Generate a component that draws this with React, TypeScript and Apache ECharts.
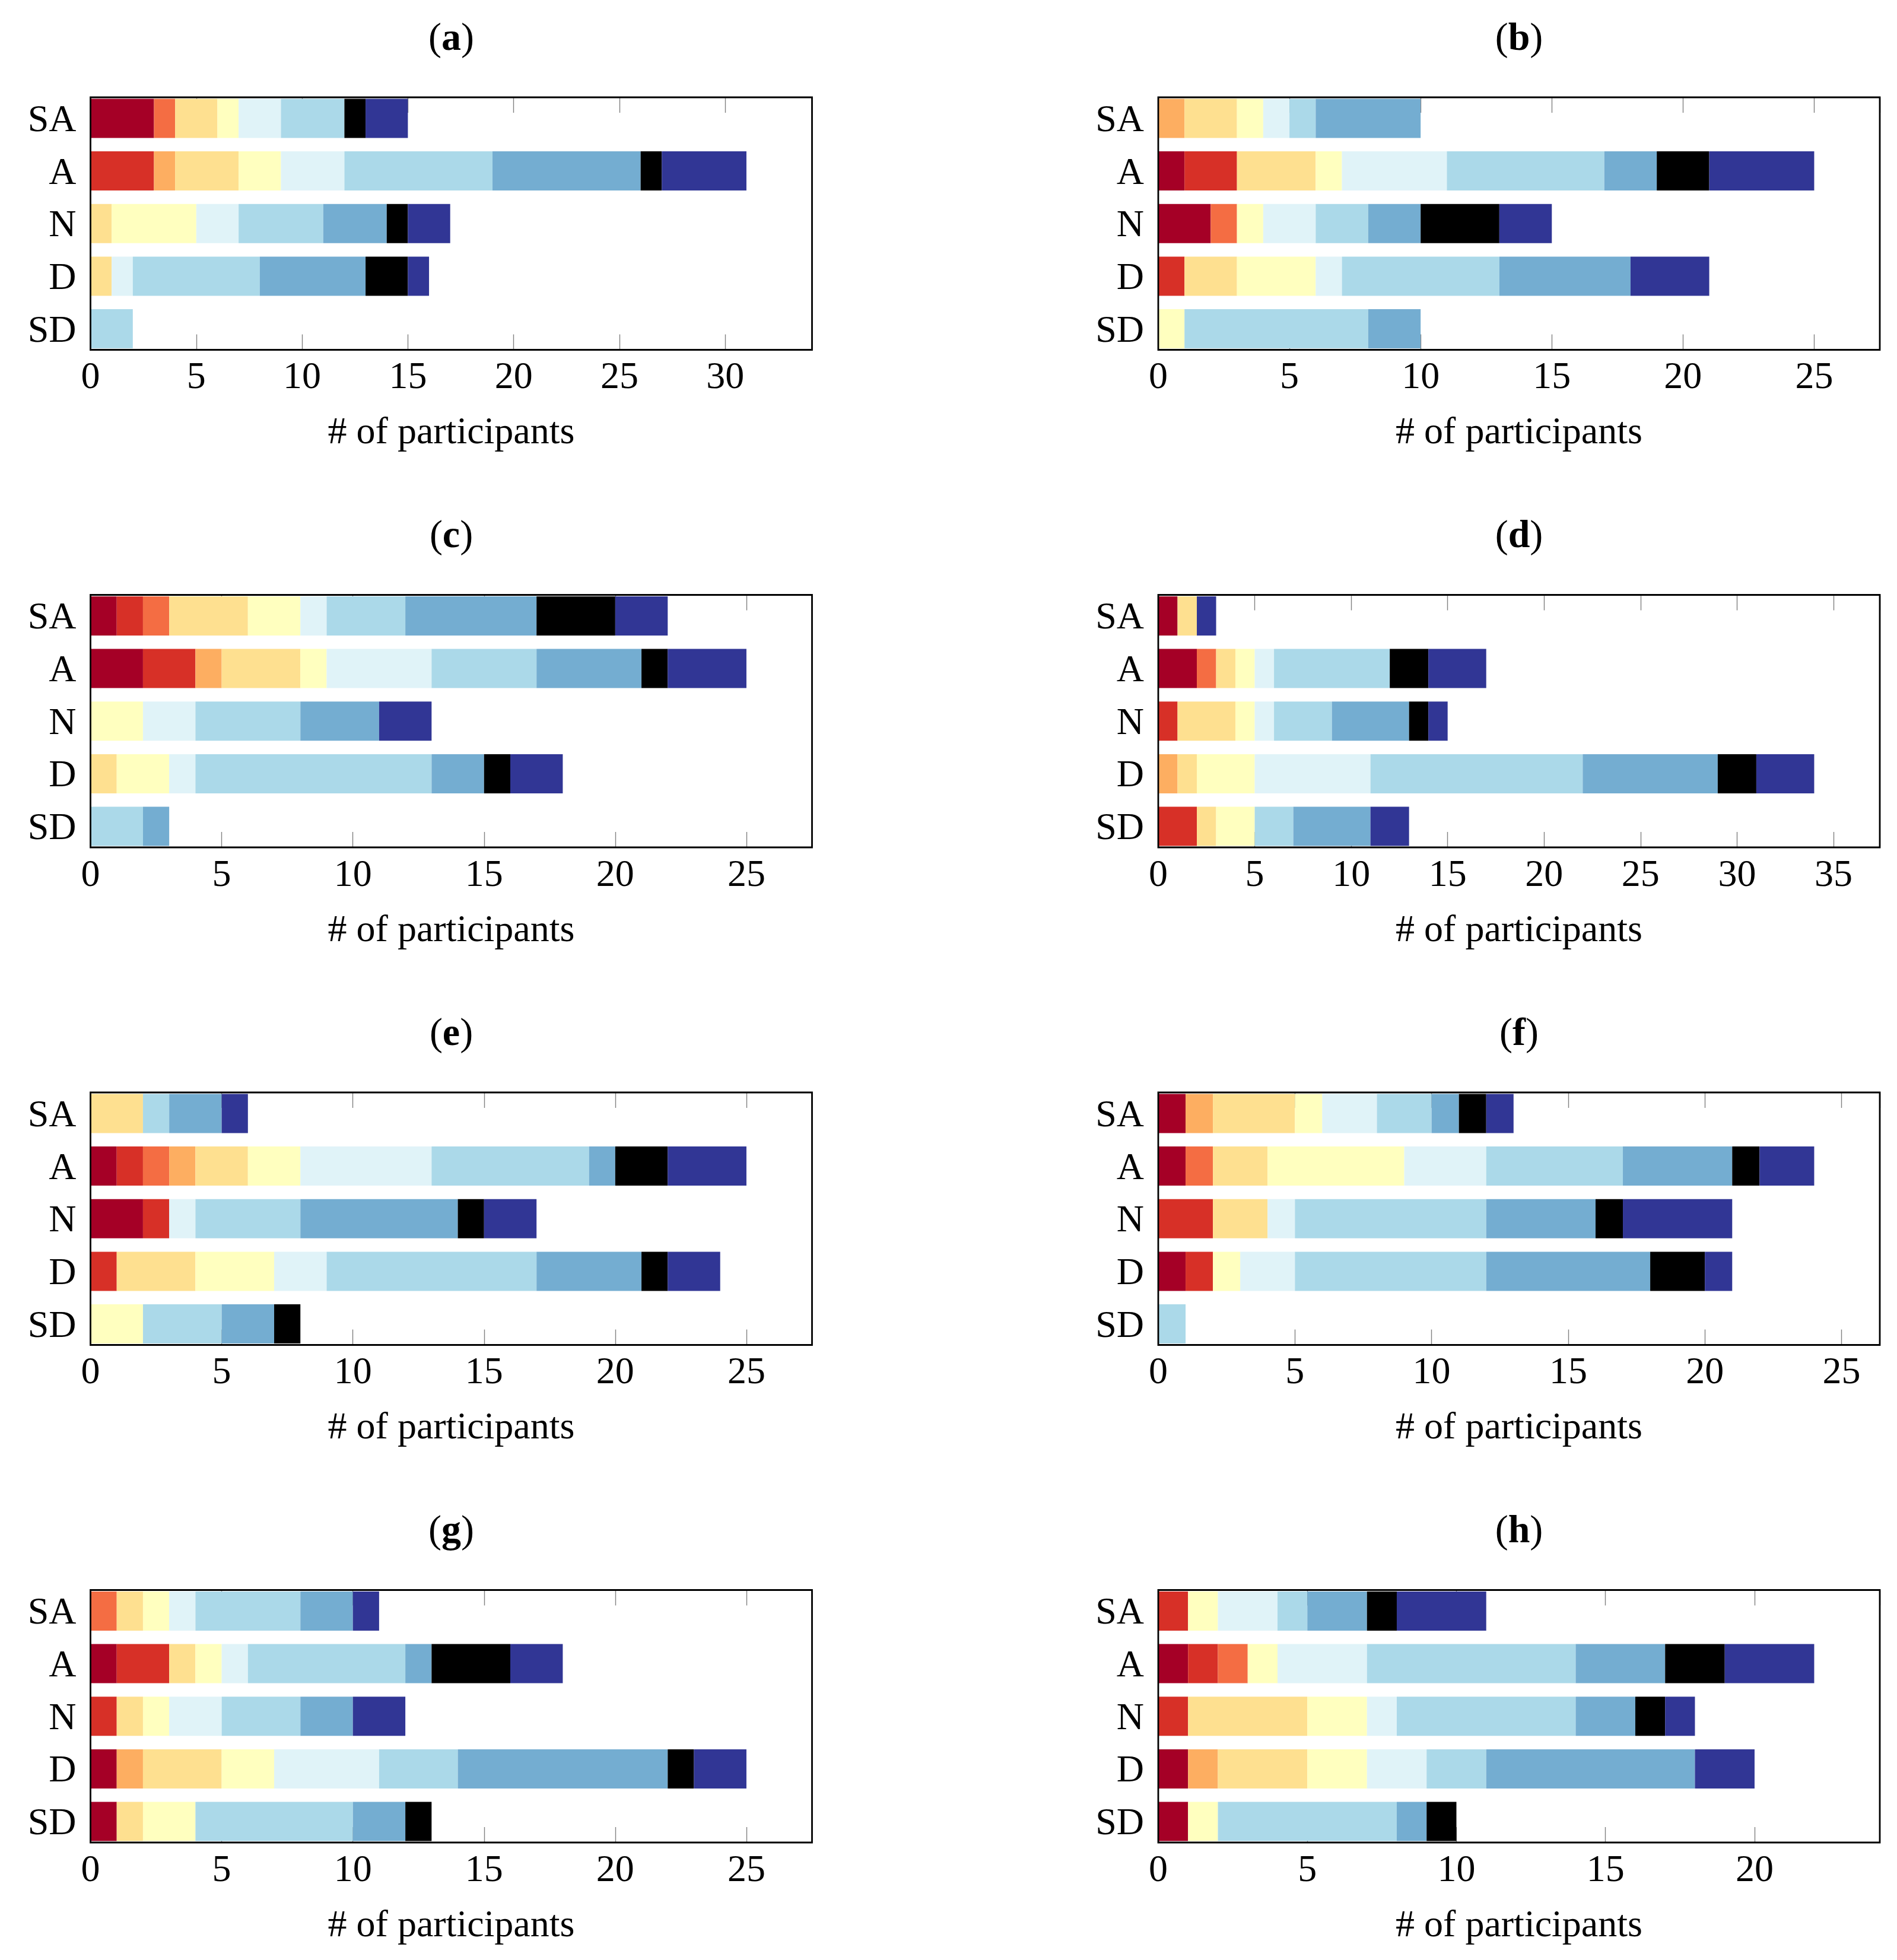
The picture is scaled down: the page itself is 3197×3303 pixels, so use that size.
import React, { useEffect, useRef } from "react";
import * as echarts from "echarts";

// ---------------- data ----------------
const categories = ["SA", "A", "N", "D", "SD"];
const panelLetters = ["a", "b", "c", "d", "e", "f", "g", "h"];
const segmentColors = [
  "#a50026", "#d73027", "#f46d43", "#fdae61", "#fee090", "#ffffbf",
  "#e0f3f8", "#abd9e9", "#74add1", "#000000", "#313695",
];

// each row: counts per colour segment, rows in order SA, A, N, D, SD
const panelA = [
  [3, 0, 1, 0, 2, 1, 2, 3, 0, 1, 2],
  [0, 3, 0, 1, 3, 2, 3, 7, 7, 1, 4],
  [0, 0, 0, 0, 1, 4, 2, 4, 3, 1, 2],
  [0, 0, 0, 0, 1, 0, 1, 6, 5, 2, 1],
  [0, 0, 0, 0, 0, 0, 0, 2, 0, 0, 0],
];
const panelB = [
  [0, 0, 0, 1, 2, 1, 1, 1, 4, 0, 0],
  [1, 2, 0, 0, 3, 1, 4, 6, 2, 2, 4],
  [2, 0, 1, 0, 0, 1, 2, 2, 2, 3, 2],
  [0, 1, 0, 0, 2, 3, 1, 6, 5, 0, 3],
  [0, 0, 0, 0, 0, 1, 0, 7, 2, 0, 0],
];
const panelC = [
  [1, 1, 1, 0, 3, 2, 1, 3, 5, 3, 2],
  [2, 2, 0, 1, 3, 1, 4, 4, 4, 1, 3],
  [0, 0, 0, 0, 0, 2, 2, 4, 3, 0, 2],
  [0, 0, 0, 0, 1, 2, 1, 9, 2, 1, 2],
  [0, 0, 0, 0, 0, 0, 0, 2, 1, 0, 0],
];
const panelD = [
  [1, 0, 0, 0, 1, 0, 0, 0, 0, 0, 1],
  [2, 0, 1, 0, 1, 1, 1, 6, 0, 2, 3],
  [0, 1, 0, 0, 3, 1, 1, 3, 4, 1, 1],
  [0, 0, 0, 1, 1, 3, 6, 11, 7, 2, 3],
  [0, 2, 0, 0, 1, 2, 0, 2, 4, 0, 2],
];
const panelE = [
  [0, 0, 0, 0, 2, 0, 0, 1, 2, 0, 1],
  [1, 1, 1, 1, 2, 2, 5, 6, 1, 2, 3],
  [2, 1, 0, 0, 0, 0, 1, 4, 6, 1, 2],
  [0, 1, 0, 0, 3, 3, 2, 8, 4, 1, 2],
  [0, 0, 0, 0, 0, 2, 0, 3, 2, 1, 0],
];
const panelF = [
  [1, 0, 0, 1, 3, 1, 2, 2, 1, 1, 1],
  [1, 0, 1, 0, 2, 5, 3, 5, 4, 1, 2],
  [0, 2, 0, 0, 2, 0, 1, 7, 4, 1, 4],
  [1, 1, 0, 0, 0, 1, 2, 7, 6, 2, 1],
  [0, 0, 0, 0, 0, 0, 0, 1, 0, 0, 0],
];
const panelG = [
  [0, 0, 1, 0, 1, 1, 1, 4, 2, 0, 1],
  [1, 2, 0, 0, 1, 1, 1, 6, 1, 3, 2],
  [0, 1, 0, 0, 1, 1, 2, 3, 2, 0, 2],
  [1, 0, 0, 1, 3, 2, 4, 3, 8, 1, 2],
  [1, 0, 0, 0, 1, 2, 0, 6, 2, 1, 0],
];
const panelH = [
  [0, 1, 0, 0, 0, 1, 2, 1, 2, 1, 3],
  [1, 1, 1, 0, 0, 1, 3, 7, 3, 2, 3],
  [0, 1, 0, 0, 4, 2, 1, 6, 2, 1, 1],
  [1, 0, 0, 1, 3, 2, 2, 2, 7, 0, 2],
  [1, 0, 0, 0, 0, 1, 0, 6, 1, 1, 0],
];
const panels = [panelA, panelB, panelC, panelD, panelE, panelF, panelG, panelH];

// tick labels for each panel's x axis
const ticksA = [0, 5, 10, 15, 20, 25, 30];
const ticksB = [0, 5, 10, 15, 20, 25];
const ticksC = [0, 5, 10, 15, 20, 25];
const ticksD = [0, 5, 10, 15, 20, 25, 30, 35];
const ticksE = [0, 5, 10, 15, 20, 25];
const ticksF = [0, 5, 10, 15, 20, 25];
const ticksG = [0, 5, 10, 15, 20, 25];
const ticksH = [0, 5, 10, 15, 20];
const panelTicks = [ticksA, ticksB, ticksC, ticksD, ticksE, ticksF, ticksG, ticksH];

const xAxisName = "# of participants";

// ---------------- layout ----------------
const PAGE_W = 3197;
const PAGE_H = 3303;
const colLeft = [152.5, 1952];
const rowTop = [164, 1002.5, 1841, 2679.5];
const plotW = 1216;
const plotH = 425.5;
const FONT = "'Liberation Serif', 'Times New Roman', serif";
const TICK = "#808080";

function buildOption() {
  const grid: any[] = [];
  const xAxis: any[] = [];
  const yAxis: any[] = [];
  const series: any[] = [];
  const graphic: any[] = [];

  panels.forEach((rows, p) => {
    const col = p % 2;
    const row = Math.floor(p / 2);
    const left = colLeft[col];
    const top = rowTop[row];
    const step = plotH / 4.8;
    const totals = rows.map((r) => r.reduce((s, v) => s + v, 0));
    const xmax = Math.max(...totals) * 1.1;
    const ticks = panelTicks[p];

    // grid A: bars (category band extended so centres match frame layout)
    grid.push({ left, top: top - 0.1 * step, width: plotW, height: step * 5 });
    // grid B: exact frame, used for x ticks/labels
    grid.push({ left, top, width: plotW, height: plotH });
    const gA = 2 * p;
    const gB = 2 * p + 1;

    xAxis.push({ gridIndex: gA, type: "value", min: 0, max: xmax, show: false });
    xAxis.push({
      gridIndex: gB, type: "value", min: 0, max: xmax, interval: 5, position: "bottom",
      axisLine: { show: false }, splitLine: { show: false },
      axisTick: { inside: true, length: 26, lineStyle: { color: TICK, width: 1.4 } },
      axisLabel: {
        margin: 11, fontSize: 64, fontFamily: FONT, color: "#000", showMaxLabel: false,
        formatter: (v: number) => (ticks.includes(v) ? String(v) : ""),
      },
    });
    xAxis.push({
      gridIndex: gB, type: "value", min: 0, max: xmax, interval: 5, position: "top",
      axisLine: { show: false }, splitLine: { show: false },
      axisTick: { inside: true, length: 26, lineStyle: { color: TICK, width: 1.4 } },
      axisLabel: { show: false },
    });

    yAxis.push({
      gridIndex: gA, type: "category", data: categories, inverse: true, position: "left",
      axisLine: { show: false }, splitLine: { show: false },
      axisTick: { inside: true, alignWithLabel: true, length: 28, lineStyle: { color: TICK, width: 1.4 } },
      axisLabel: { fontSize: 64, fontFamily: FONT, color: "#000", margin: 24 },
    });
    yAxis.push({
      gridIndex: gA, type: "category", data: categories, inverse: true, position: "right",
      axisLine: { show: false }, splitLine: { show: false },
      axisTick: { inside: true, alignWithLabel: true, length: 28, lineStyle: { color: TICK, width: 1.4 } },
      axisLabel: { show: false },
    });
    yAxis.push({ gridIndex: gB, type: "value", min: 0, max: 1, show: false });

    segmentColors.forEach((color, k) => {
      series.push({
        type: "bar",
        xAxisIndex: 3 * p,
        yAxisIndex: 3 * p,
        stack: "panel" + p,
        barWidth: 66,
        silent: true,
        itemStyle: { color },
        data: rows.map((r) => r[k]),
      });
    });

    const cx = left + plotW / 2;
    graphic.push({
      type: "rect", z: 100, silent: true,
      shape: { x: left, y: top, width: plotW, height: plotH },
      style: { fill: "none", stroke: "#000", lineWidth: 2.8 },
    });
    graphic.push({
      type: "text", z: 100, x: cx, y: top - 103,
      style: {
        text: "({b|" + panelLetters[p] + "})",
        fontSize: 66, fontFamily: FONT, fill: "#000",
        align: "center", verticalAlign: "middle",
        textAlign: "center", textVerticalAlign: "middle",
        rich: { b: { fontSize: 66, fontFamily: FONT, fontWeight: "bold", fill: "#000" } },
      },
    });
    graphic.push({
      type: "text", z: 100, x: cx, y: top + plotH + 136,
      style: {
        text: xAxisName,
        fontSize: 64, fontFamily: FONT, fill: "#000",
        align: "center", verticalAlign: "middle",
        textAlign: "center", textVerticalAlign: "middle",
      },
    });
  });

  return {
    animation: false,
    backgroundColor: "#fff",
    grid, xAxis, yAxis, series, graphic,
  };
}

export default function App() {
  const ref = useRef<HTMLDivElement>(null);
  useEffect(() => {
    document.body.style.margin = "0";
    document.body.style.overflow = "hidden";
    if (!ref.current) return;
    const chart = echarts.init(ref.current, undefined, { renderer: "svg" });
    chart.setOption(buildOption() as any);
    return () => chart.dispose();
  }, []);
  return <div ref={ref} style={{ width: PAGE_W, height: PAGE_H, background: "#fff" }} />;
}
